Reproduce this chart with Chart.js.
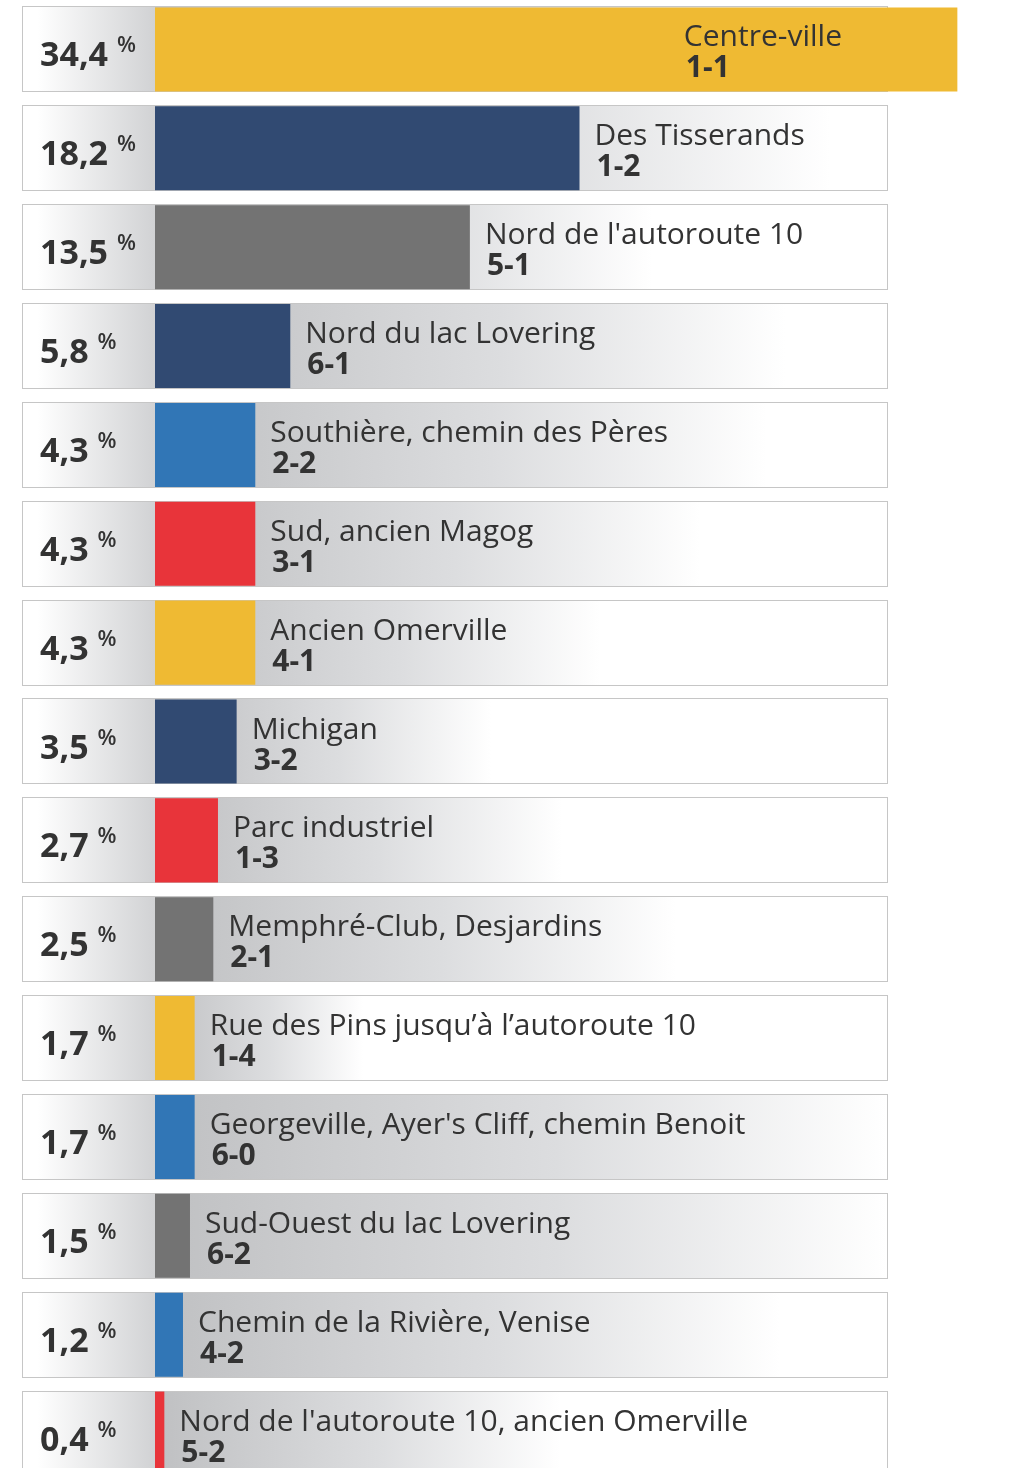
<!DOCTYPE html>
<html lang="fr">
<head>
<meta charset="utf-8">
<title>Répartition par secteur</title>
<script src="https://cdn.jsdelivr.net/npm/chart.js@4.4.1/dist/chart.umd.min.js"></script>
<style>
    html, body { margin: 0; padding: 0; background: #ffffff; overflow: hidden; }
    #wrap { width: 1025px; height: 1483px; }
</style>
</head>
<body>
<div id="wrap"><canvas id="secteurs" width="1025" height="1483"></canvas></div>
<script>
// Données
const secteurs = [
    'Centre-ville', 'Des Tisserands', "Nord de l'autoroute 10", 'Nord du lac Lovering',
    'Southière, chemin des Pères', 'Sud, ancien Magog', 'Ancien Omerville', 'Michigan',
    'Parc industriel', 'Memphré-Club, Desjardins', 'Rue des Pins jusqu’à l’autoroute 10',
    "Georgeville, Ayer's Cliff, chemin Benoit", 'Sud-Ouest du lac Lovering',
    'Chemin de la Rivière, Venise', "Nord de l'autoroute 10, ancien Omerville"
];
const codes = ['1-1', '1-2', '5-1', '6-1', '2-2', '3-1', '4-1', '3-2', '1-3', '2-1', '1-4', '6-0', '6-2', '4-2', '5-2'];
const pourcentages = [34.4, 18.2, 13.5, 5.8, 4.3, 4.3, 4.3, 3.5, 2.7, 2.5, 1.7, 1.7, 1.5, 1.2, 0.4];

// Couleurs des barres
const JAUNE = '#efba33', MARINE = '#314a72', GRIS = '#737373', BLEU = '#3176b6', ROUGE = '#e8343a';
const couleurs = [JAUNE, MARINE, GRIS, MARINE, BLEU, ROUGE, JAUNE, MARINE, ROUGE, GRIS, JAUNE, BLEU, GRIS, BLEU, ROUGE];

// Fin du dégradé gris derrière chaque étiquette (décor)
const finDegrade = [887, 830, 652, 785, 767, 700, 600, 491, 562, 676, 363, 887, 887, 780, 560];

const BOX_LEFT = 22, BOX_RIGHT = 887;
const TEXTE = '#333333';
const POLICE = '"Open Sans", "Noto Sans", sans-serif';

function formatPct(v) {
    return v.toFixed(1).replace('.', ',');
}

// Cadres et dégradés derrière les barres
const fondsPlugin = {
    id: 'fonds',
    beforeDatasetsDraw(chart) {
        const ctx = chart.ctx;
        const meta = chart.getDatasetMeta(0);
        meta.data.forEach((bar, i) => {
            const top = Math.round(bar.y - bar.height / 2);
            const h = Math.round(bar.height);
            const base = bar.base;

            // partie gauche (pourcentage)
            const g1 = ctx.createLinearGradient(BOX_LEFT + 15, 0, base, 0);
            g1.addColorStop(0, '#ffffff');
            g1.addColorStop(1, '#d1d2d4');
            ctx.fillStyle = g1;
            ctx.fillRect(BOX_LEFT, top, base - BOX_LEFT, h);

            // partie droite (étiquette)
            const g2 = ctx.createLinearGradient(base, 0, finDegrade[i], 0);
            g2.addColorStop(0, '#bfc0c2');
            g2.addColorStop(0.55, '#dcdddf');
            g2.addColorStop(1, '#ffffff');
            ctx.fillStyle = g2;
            ctx.fillRect(base, top, BOX_RIGHT - base, h);

            // cadre
            ctx.strokeStyle = '#c6c6c6';
            ctx.lineWidth = 1;
            ctx.strokeRect(BOX_LEFT + 0.5, top - 0.5, BOX_RIGHT - BOX_LEFT, h + 1);
        });
    },
    afterDatasetsDraw(chart) {
        const ctx = chart.ctx;
        const meta = chart.getDatasetMeta(0);
        ctx.save();
        ctx.fillStyle = TEXTE;
        ctx.textAlign = 'left';
        ctx.textBaseline = 'alphabetic';
        meta.data.forEach((bar, i) => {
            const cy = bar.y;

            // pourcentage
            ctx.font = 'bold 34px ' + POLICE;
            const num = formatPct(pourcentages[i]);
            ctx.fillText(num, 40, cy + 17);
            const w = ctx.measureText(num).width;
            ctx.font = '600 22px ' + POLICE;
            ctx.fillText('%', 40 + w + 9, cy + 3);

            // nom du secteur + code
            ctx.font = '30px ' + POLICE;
            const tw = ctx.measureText(secteurs[i]).width;
            let x = bar.x + 15;
            if (x + tw > BOX_RIGHT - 40) {
                x = BOX_RIGHT - 45 - tw;
            }
            ctx.fillText(secteurs[i], x, cy - 3);
            ctx.font = 'bold 30px ' + POLICE;
            ctx.fillText(codes[i], x + 2, cy + 28);
        });
        ctx.restore();
    }
};

document.addEventListener('DOMContentLoaded', function() {
    const ctx = document.getElementById('secteurs').getContext('2d');
    new Chart(ctx, {
        type: 'bar',
        data: {
            labels: secteurs,
            datasets: [{
                data: pourcentages,
                backgroundColor: couleurs,
                borderWidth: 0,
                categoryPercentage: 1,
                barPercentage: 0.85
            }]
        },
        options: {
            indexAxis: 'y',
            responsive: false,
            animation: false,
            layout: { padding: { left: 155, right: 0, top: 0, bottom: 0 } },
            plugins: {
                legend: { display: false },
                tooltip: { enabled: false }
            },
            scales: {
                x: { display: false, min: 0, max: 37.3 },
                y: { display: false }
            }
        },
        plugins: [fondsPlugin]
    });
});
</script>
</body>
</html>
